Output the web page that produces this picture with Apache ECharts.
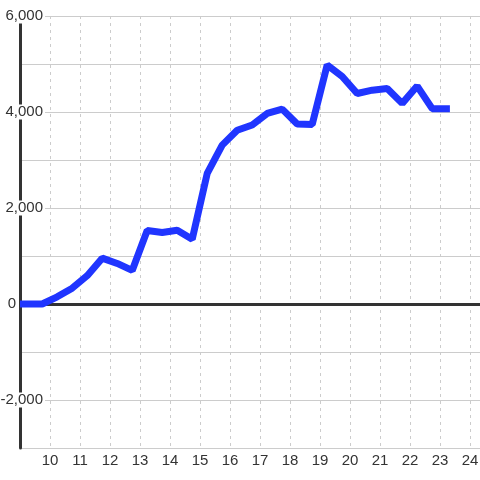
<!DOCTYPE html>
<html>
<head>
<meta charset="utf-8">
<script src="https://cdn.jsdelivr.net/npm/echarts@6/dist/echarts.min.js"></script>
<style>
html,body{margin:0;padding:0;background:#fff;}
#c{width:480px;height:480px;}
</style>
</head>
<body>
<div id="c"></div>
<script>
var xValues = [9, 9.74, 10.24, 10.74, 11.24, 11.74, 12.24, 12.74, 13.24, 13.74, 14.24, 14.74, 15.24, 15.74, 16.24, 16.74, 17.24, 17.74, 18.24, 18.74, 19.24, 19.74, 20.24, 20.74, 21.24, 21.74, 22.24, 22.74, 23.33];
var yValues = [0, 0, 150, 330, 590, 955, 845, 700, 1530, 1490, 1535, 1350, 2720, 3310, 3620, 3730, 3970, 4060, 3750, 3740, 4980, 4740, 4385, 4455, 4490, 4180, 4540, 4070, 4070];
var yTickLabels = {"-2000": "-2,000", "0": "0", "2000": "2,000", "4000": "4,000", "6000": "6,000"};

var points = xValues.map(function (x, i) { return [x, yValues[i]]; });

var chart = echarts.init(document.getElementById('c'), null, {renderer: 'canvas'});
chart.setOption({
  backgroundColor: '#ffffff',
  animation: false,
  textStyle: {fontFamily: 'Liberation Sans'},
  grid: {left: 20, right: 0, top: 16, bottom: 32, containLabel: false, outerBoundsMode: 'none'},
  xAxis: {
    type: 'value',
    min: 9,
    max: 24.3333,
    interval: 1,
    axisLine: {show: false, onZero: false},
    axisTick: {show: false},
    splitLine: {show: true, lineStyle: {color: '#cccccc', type: [3, 4], width: 1}},
    axisLabel: {
      showMinLabel: false,
      showMaxLabel: false,
      color: '#333333',
      fontSize: 15,
      fontFamily: 'Liberation Sans',
      margin: 5,
      formatter: function (v) { return String(Math.round(v)); }
    }
  },
  yAxis: {
    type: 'value',
    min: -3000,
    max: 6000,
    interval: 1000,
    axisLine: {show: true, onZero: false, lineStyle: {color: '#333333', width: 3}},
    axisTick: {show: false},
    splitLine: {show: true, lineStyle: {color: '#cccccc', width: 1}},
    axisLabel: {
      margin: -25,
      align: 'right',
      color: '#333333',
      fontSize: 15,
      fontFamily: 'Liberation Sans',
      formatter: function (v) {
        var t = yTickLabels[String(v)];
        if (t === undefined) return '';
        if (v === 0) return '{z|' + t + '}';
        return '{a|' + t + '}';
      },
      rich: {
        a: {backgroundColor: '#ffffff', padding: [0, 2, 0, 2], color: '#333333', fontSize: 15, fontFamily: 'Liberation Sans'},
        z: {padding: [0, 29, 0, 0], color: '#333333', fontSize: 15, fontFamily: 'Liberation Sans'}
      }
    }
  },
  series: [{
    type: 'line',
    data: points,
    showSymbol: false,
    symbol: 'none',
    lineStyle: {color: '#2035ff', width: 7},
    itemStyle: {color: '#2035ff'},
    z: 3,
    markLine: {
      silent: true,
      symbol: ['none', 'none'],
      z: 2,
      label: {show: false},
      lineStyle: {color: '#333333', width: 3, type: 'solid'},
      data: [{yAxis: 0}]
    }
  }]
});
</script>
</body>
</html>
